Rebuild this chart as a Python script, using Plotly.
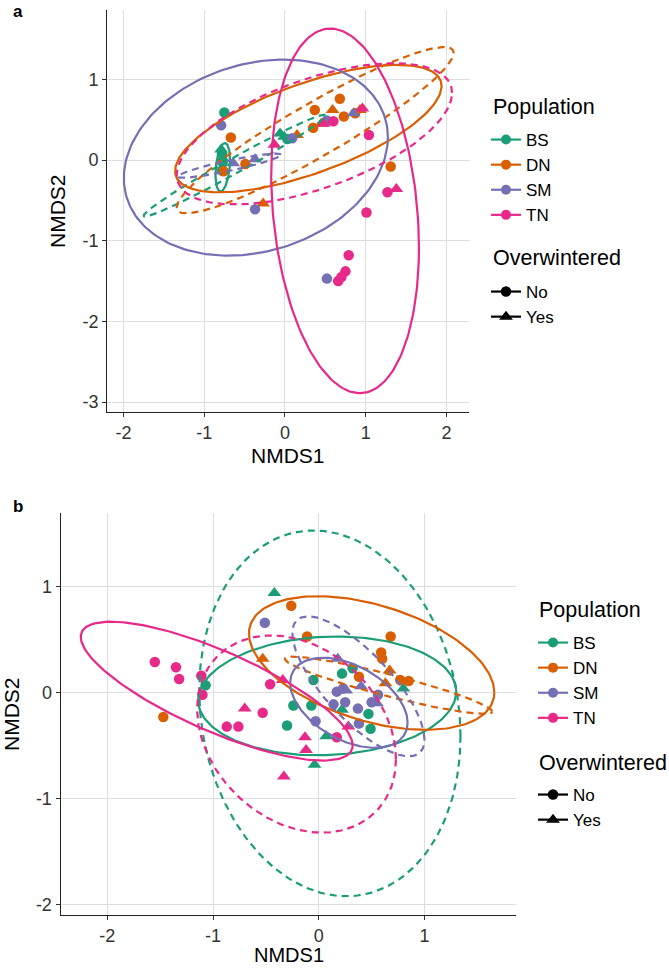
import numpy as np
import plotly.graph_objects as go

# ---------------- data ----------------
POPS = ["BS", "DN", "SM", "TN"]
POP_COLORS = ["#1B9E77", "#D95F02", "#7570B3", "#E7298A"]
OW_LEVELS = ["No", "Yes"]

# Panel a: NMDS scores
a_BS_x = [-0.75, -0.78, -0.77, -0.78, 0.03, -0.79, -0.77, -0.06, -0.01]
a_BS_y = [0.59, 0.08, -0.03, -0.13, 0.26, 0.13, 0.02, 0.33, 0.29]
a_BS_ow = ["No", "No", "No", "No", "No", "Yes", "Yes", "Yes", "Yes"]

a_DN_x = [-0.67, -0.76, -0.49, 0.37, 0.68, 0.35, 0.73, 0.87, 1.31, -0.27, 0.15, 0.59, 0.45, 0.93]
a_DN_y = [0.28, -0.14, -0.05, 0.62, 0.76, 0.40, 0.54, 0.58, -0.08, -0.54, 0.31, 0.62, 0.45, 0.62]
a_DN_ow = ["No"] * 9 + ["Yes"] * 5

a_SM_x = [-0.79, 0.09, 0.52, -0.37, 0.52, -0.64, -0.37, 0.85]
a_SM_y = [0.43, 0.27, 0.49, -0.61, -1.47, -0.04, 0.01, 0.58]
a_SM_ow = ["No"] * 5 + ["Yes"] * 3

a_TN_x = [1.04, 1.27, 1.01, 0.79, 0.75, 0.66, 0.70, 0.60, -0.13, 0.48, 0.96, 1.38]
a_TN_y = [0.31, -0.40, -0.65, -1.18, -1.38, -1.50, -1.45, 0.48, 0.19, 0.45, 0.64, -0.36]
a_TN_ow = ["No"] * 8 + ["Yes"] * 4

# Panel b: NMDS scores
b_BS_x = [-1.07, -0.05, 0.22, 0.32, -0.24, -0.07, -0.30, 0.47, 0.49, -0.42, 0.80, 0.07, -0.04, 0.22]
b_BS_y = [0.07, 0.12, 0.18, 0.23, -0.12, -0.12, -0.31, -0.20, -0.34, 0.94, 0.04, -0.41, -0.68, -0.16]
b_BS_ow = ["No"] * 9 + ["Yes"] * 5

b_DN_x = [-0.26, -0.11, 0.68, 0.59, 0.60, 0.38, 0.77, 0.85, -1.47, -0.53, 0.67, 0.63]
b_DN_y = [0.82, 0.53, 0.53, 0.38, 0.32, 0.15, 0.12, 0.11, -0.23, 0.32, 0.21, 0.09]
b_DN_ow = ["No"] * 9 + ["Yes"] * 3

b_SM_x = [-0.51, 0.17, 0.23, 0.14, 0.25, 0.37, 0.50, 0.56, 0.38, -0.03, 0.18, 0.40, 0.26, 0.55]
b_SM_y = [0.66, 0.01, 0.04, -0.11, -0.09, -0.15, -0.09, -0.02, -0.29, -0.27, 0.32, 0.06, 0.02, -0.10]
b_SM_ow = ["No"] * 10 + ["Yes"] * 4

b_TN_x = [-1.55, -1.35, -1.32, -1.11, -1.10, -0.46, -0.53, -0.87, -0.76, 0.17,
          -0.34, -0.70, -0.13, -0.12, 0.28, -0.33]
b_TN_y = [0.29, 0.24, 0.13, 0.16, -0.02, 0.08, -0.19, -0.32, -0.32, -0.42,
          0.12, -0.15, -0.42, -0.54, -0.32, -0.79]
b_TN_ow = ["No"] * 10 + ["Yes"] * 6

# 95% ellipse summaries per Population x Overwintered group
# (centre, spread along NMDS1, spread along NMDS2, correlation)
ell_groups = [("BS", "No"), ("BS", "Yes"), ("DN", "No"), ("DN", "Yes"),
              ("SM", "No"), ("SM", "Yes"), ("TN", "No"), ("TN", "Yes")]
ell_a_cx = [-0.77, -0.625, 0.29, 0.375, -0.36, -0.69, 0.745, 0.365]
ell_a_cy = [-0.09, -0.07, 0.39, 0.37, 0.03, -0.07, -0.63, 0.325]
ell_a_sx = [0.09, 1.125, 1.65, 1.715, 1.635, 0.64, 0.915, 1.705]
ell_a_sy = [0.30, 0.63, 0.79, 1.03, 1.215, 0.15, 2.26, 0.875]
ell_a_r = [0.30, 0.985, 0.667, 0.93, 0.208, 0.90, -0.20, 0.58]

ell_b_cx = [0.08, 0.105, 0.50, 0.66, 0.285, 0.375, -0.965, -0.21]
ell_b_cy = [-0.03, -0.195, 0.28, 0.07, -0.095, 0.06, 0.015, -0.39]
ell_b_sx = [1.22, 1.235, 1.16, 0.98, 0.555, 0.625, 1.285, 0.94]
ell_b_sy = [0.56, 1.725, 0.63, 0.27, 0.425, 0.66, 0.655, 0.93]
ell_b_r = [0.074, -0.125, -0.44, -0.92, -0.44, -0.76, -0.78, -0.255]

a_ticks_x = [-2, -1, 0, 1, 2]
a_ticks_y = [-3, -2, -1, 0, 1]
b_ticks_x = [-2, -1, 0, 1]
b_ticks_y = [-2, -1, 0, 1]

# ---------------- figure ----------------
W, H = 669, 968
FONT = "Liberation Sans, Arial, sans-serif"
color_of = dict(zip(POPS, POP_COLORS))
symbol_of = {"No": "circle", "Yes": "triangle-up"}
size_of = {"No": 10.5, "Yes": 12}
dash_of = {"No": "solid", "Yes": "7px,5px"}


def ellipse_path(cx, cy, sx, sy, r, n=200):
    cov = np.array([[sx * sx, r * sx * sy], [r * sx * sy, sy * sy]])
    L = np.linalg.cholesky(cov)
    t = np.linspace(0, 2 * np.pi, n)
    pts = L @ np.vstack([np.cos(t), np.sin(t)])
    return pts[0] + cx, pts[1] + cy


fig = go.Figure()

panels = {
    "a": dict(xa="x", ya="y",
              data={"BS": (a_BS_x, a_BS_y, a_BS_ow), "DN": (a_DN_x, a_DN_y, a_DN_ow),
                    "SM": (a_SM_x, a_SM_y, a_SM_ow), "TN": (a_TN_x, a_TN_y, a_TN_ow)},
              ell=(ell_a_cx, ell_a_cy, ell_a_sx, ell_a_sy, ell_a_r)),
    "b": dict(xa="x2", ya="y2",
              data={"BS": (b_BS_x, b_BS_y, b_BS_ow), "DN": (b_DN_x, b_DN_y, b_DN_ow),
                    "SM": (b_SM_x, b_SM_y, b_SM_ow), "TN": (b_TN_x, b_TN_y, b_TN_ow)},
              ell=(ell_b_cx, ell_b_cy, ell_b_sx, ell_b_sy, ell_b_r)),
}

for key, p in panels.items():
    # points
    for pop in POPS:
        xs, ys, ows = p["data"][pop]
        for ow in OW_LEVELS:
            px = [x for x, o in zip(xs, ows) if o == ow]
            py = [y for y, o in zip(ys, ows) if o == ow]
            fig.add_trace(go.Scatter(
                x=px, y=py, mode="markers", xaxis=p["xa"], yaxis=p["ya"],
                marker=dict(color=color_of[pop], symbol=symbol_of[ow], size=size_of[ow],
                            line=dict(width=0)),
                showlegend=False, hoverinfo="skip"))
    # ellipses
    cxs, cys, sxs, sys_, rs = p["ell"]
    for (pop, ow), cx, cy, sx, sy, r in zip(ell_groups, cxs, cys, sxs, sys_, rs):
        ex, ey = ellipse_path(cx, cy, sx, sy, r)
        fig.add_trace(go.Scatter(
            x=ex, y=ey, mode="lines", xaxis=p["xa"], yaxis=p["ya"],
            line=dict(color=color_of[pop], width=2.2, dash=dash_of[ow]),
            showlegend=False, hoverinfo="skip"))

# legends (dummy entries)
for key, lp, lo in (("a", "legend", "legend2"), ("b", "legend3", "legend4")):
    for i, pop in enumerate(POPS):
        fig.add_trace(go.Scatter(
            x=[None], y=[None], mode="lines+markers", name=pop, legend=lp,
            legendgroup=key + pop,
            line=dict(color=color_of[pop], width=2.2),
            marker=dict(color=color_of[pop], symbol="circle", size=10)))
    for ow in OW_LEVELS:
        fig.add_trace(go.Scatter(
            x=[None], y=[None], mode="lines+markers", name=ow, legend=lo,
            legendgroup=key + ow,
            line=dict(color="black", width=2.2),
            marker=dict(color="black", symbol=symbol_of[ow], size=size_of[ow])))


def px2fx(v):
    return v / W


def px2fy(v):
    return 1 - v / H


axis_common = dict(
    showgrid=True, gridcolor="#DEDEDE", gridwidth=1.3, zeroline=False,
    showline=True, linecolor="#222222", linewidth=1.4,
    ticks="outside", ticklen=4, tickwidth=1.2, tickcolor="#333333",
    tickfont=dict(family=FONT, size=18, color="#333333"),
    tickmode="array",
)

fig.update_layout(
    width=W, height=H, margin=dict(l=0, r=0, t=0, b=0),
    paper_bgcolor="white", plot_bgcolor="white",
    font=dict(family=FONT, color="black"),
    xaxis=dict(axis_common, domain=[px2fx(107.3), px2fx(469)], range=[-2.2, 2.28],
               tickvals=a_ticks_x, ticktext=[str(v) for v in a_ticks_x], anchor="y"),
    yaxis=dict(axis_common, domain=[px2fy(411.7), px2fy(10)], range=[-3.12, 1.86],
               tickvals=a_ticks_y, ticktext=[str(v) for v in a_ticks_y], anchor="x"),
    xaxis2=dict(axis_common, domain=[px2fx(60.7), px2fx(516)], range=[-2.44, 1.865],
                tickvals=b_ticks_x, ticktext=[str(v) for v in b_ticks_x], anchor="y2"),
    yaxis2=dict(axis_common, domain=[px2fy(915), px2fy(512.7)], range=[-2.097, 1.698],
                tickvals=b_ticks_y, ticktext=[str(v) for v in b_ticks_y], anchor="x2"),
)

leg_common = dict(
    xanchor="left", yanchor="top", bgcolor="rgba(0,0,0,0)", borderwidth=0,
    font=dict(family=FONT, size=17, color="black"), tracegroupgap=0,
    itemwidth=30,
)
fig.update_layout(
    legend=dict(leg_common, x=px2fx(486), y=px2fy(122)),
    legend2=dict(leg_common, x=px2fx(486), y=px2fy(274)),
    legend3=dict(leg_common, x=px2fx(533), y=px2fy(625)),
    legend4=dict(leg_common, x=px2fx(533), y=px2fy(777)),
)

# axis titles, legend titles and panel tags
ann = [
    dict(text="NMDS1", x=px2fx(288), y=px2fy(455), xanchor="center", yanchor="middle",
         font=dict(family=FONT, size=21)),
    dict(text="NMDS2", x=px2fx(58), y=px2fy(211), xanchor="center", yanchor="middle",
         textangle=-90, font=dict(family=FONT, size=21)),
    dict(text="NMDS1", x=px2fx(289), y=px2fy(968), xanchor="center", yanchor="bottom",
         font=dict(family=FONT, size=20)),
    dict(text="NMDS2", x=px2fx(11), y=px2fy(714), xanchor="center", yanchor="middle",
         textangle=-90, font=dict(family=FONT, size=21)),
    dict(text="<b>a</b>", x=px2fx(18), y=px2fy(0), xanchor="center", yanchor="top",
         font=dict(family=FONT, size=17)),
    dict(text="<b>b</b>", x=px2fx(18), y=px2fy(507), xanchor="center", yanchor="middle",
         font=dict(family=FONT, size=17)),
    dict(text="Population", x=px2fx(491), y=px2fy(107), xanchor="left", yanchor="middle",
         font=dict(family=FONT, size=21.5)),
    dict(text="Overwintered", x=px2fx(491), y=px2fy(258), xanchor="left", yanchor="middle",
         font=dict(family=FONT, size=21.5)),
    dict(text="Population", x=px2fx(537), y=px2fy(610), xanchor="left", yanchor="middle",
         font=dict(family=FONT, size=21.5)),
    dict(text="Overwintered", x=px2fx(537), y=px2fy(763), xanchor="left", yanchor="middle",
         font=dict(family=FONT, size=21.5)),
]
for a in ann:
    a.update(xref="paper", yref="paper", showarrow=False)
fig.update_layout(annotations=ann)

fig.write_html("out.html")
